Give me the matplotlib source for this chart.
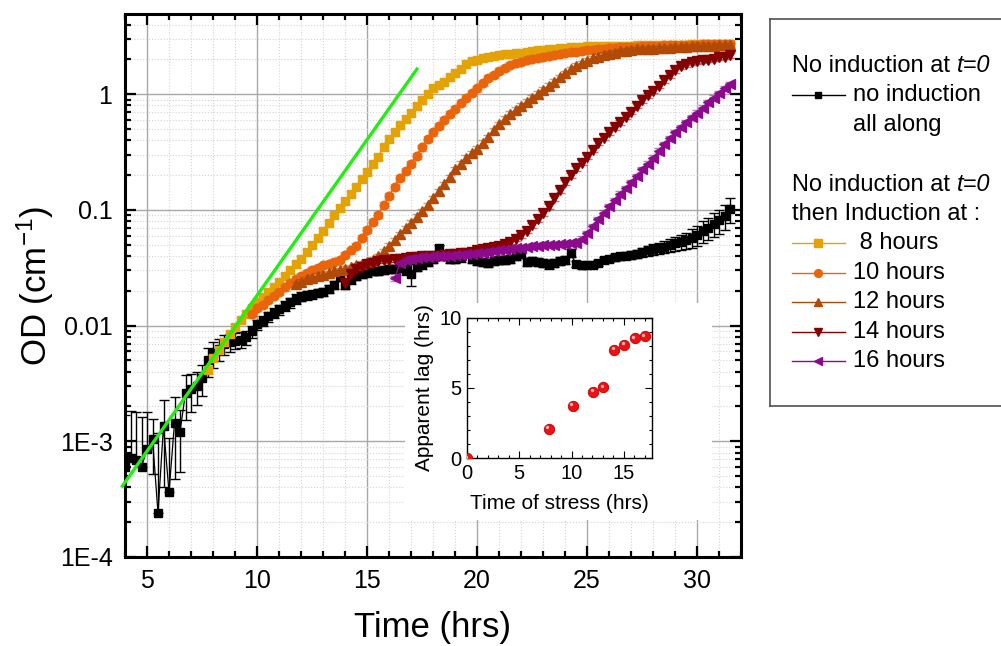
import numpy as np
import matplotlib
matplotlib.use("Agg")
import matplotlib.pyplot as plt
from matplotlib.ticker import FixedLocator, FixedFormatter, MultipleLocator, LogLocator, NullFormatter
from matplotlib.lines import Line2D
from matplotlib.patches import Rectangle
from matplotlib.colors import to_rgba
from matplotlib import transforms

plt.rcParams['font.family'] = ['Liberation Sans', 'DejaVu Sans']
plt.rcParams['mathtext.fontset'] = 'custom'
plt.rcParams['mathtext.rm'] = 'Liberation Sans'
plt.rcParams['mathtext.it'] = 'Liberation Sans:italic'

# ---------------------------------------------------------------- data
STEP = 0.25  # reader sampling interval (h)

# no induction all along: log10(OD) and relative error (%)
start_none = 4.0
log_od_none = [
    -3.22, -3.14, -3.16, -3.22, -3.07, -2.98, -3.62, -2.87, -3.44, -2.84,
    -2.92, -2.58, -2.55, -2.52, -2.45, -2.30, -2.24, -2.20, -2.16, -2.14,
    -2.13, -2.12, -2.10, -2.05, -1.99, -1.96, -1.92, -1.89, -1.86, -1.83,
    -1.80, -1.77, -1.75, -1.735, -1.73, -1.72, -1.71, -1.68, -1.65, -1.58,
    -1.65, -1.60, -1.57, -1.55, -1.54, -1.53, -1.53, -1.52, -1.51, -1.51,
    -1.50, -1.52, -1.55, -1.49, -1.47, -1.45, -1.42, -1.33, -1.40, -1.42,
    -1.42, -1.41, -1.37, -1.42, -1.44, -1.45, -1.46, -1.44, -1.43, -1.43,
    -1.42, -1.40, -1.38, -1.45, -1.44, -1.45, -1.46, -1.47, -1.46, -1.44,
    -1.43, -1.37, -1.47, -1.48, -1.475, -1.475, -1.46, -1.435, -1.42, -1.41,
    -1.40, -1.395, -1.39, -1.38, -1.365, -1.35, -1.34, -1.33, -1.32, -1.30,
    -1.29, -1.28, -1.26, -1.24, -1.215, -1.18, -1.155, -1.12, -1.09, -1.055,
    -0.99,
]
err_pct_none = [
    180, 150, 160, 170, 110, 50, 390, 70, 195, 67,
    55, 42, 36, 32, 30, 28, 25, 22, 20, 18,
    16, 15, 14, 12, 10, 10, 10, 10, 10, 10,
    10, 10, 9, 9, 8, 8, 8, 8, 8, 8,
    8, 8, 8, 8, 8, 8, 8, 8, 8, 8,
    8, 10, 22, 8, 8, 8, 8, 6, 8, 8,
    8, 8, 8, 8, 8, 8, 8, 8, 8, 8,
    8, 8, 8, 8, 8, 8, 8, 8, 8, 8,
    8, 8, 6, 6, 6, 6, 6, 6, 6, 7,
    7, 7, 8, 8, 9, 10, 10, 11, 12, 13,
    14, 15, 16, 18, 20, 21, 22, 23, 24, 24,
    25,
]

# induced at 8 h
start_8h = 7.75
log_od_8h = [
    -2.38, -2.28, -2.21, -2.14, -2.07, -2.01, -1.95, -1.90, -1.85, -1.80,
    -1.755, -1.71, -1.665, -1.62, -1.57, -1.52, -1.47, -1.42, -1.36, -1.30,
    -1.24, -1.18, -1.11, -1.04, -0.98, -0.92, -0.86, -0.80, -0.73, -0.67,
    -0.60, -0.54, -0.46, -0.39, -0.33, -0.27, -0.215, -0.16, -0.105, -0.05,
    0.00, 0.05, 0.08, 0.11, 0.145, 0.18, 0.22, 0.26, 0.285, 0.30,
    0.313, 0.323, 0.331, 0.337, 0.344, 0.35, 0.355, 0.36, 0.368, 0.375,
    0.38, 0.386, 0.39, 0.395, 0.40, 0.404, 0.407, 0.41, 0.412, 0.413,
    0.414, 0.416, 0.417, 0.418, 0.419, 0.42, 0.42, 0.421, 0.422, 0.423,
    0.424, 0.425, 0.426, 0.427, 0.428, 0.429, 0.43, 0.43, 0.431, 0.432,
    0.433, 0.434, 0.435, 0.435, 0.436, 0.437,
]

# induced at 10 h
start_10h = 9.75
log_od_10h = [
    -1.90, -1.85, -1.82, -1.78, -1.745, -1.71, -1.67, -1.63, -1.60, -1.57,
    -1.545, -1.52, -1.50, -1.48, -1.465, -1.45, -1.43, -1.39, -1.35, -1.31,
    -1.24, -1.17, -1.105, -1.04, -0.96, -0.88, -0.80, -0.72, -0.66, -0.60,
    -0.53, -0.46, -0.39, -0.33, -0.275, -0.22, -0.17, -0.125, -0.075, -0.03,
    0.01, 0.05, 0.095, 0.14, 0.17, 0.20, 0.225, 0.25, 0.268, 0.283,
    0.293, 0.303, 0.313, 0.322, 0.331, 0.34, 0.348, 0.355, 0.362, 0.368,
    0.374, 0.38, 0.385, 0.39, 0.395, 0.40, 0.403, 0.405, 0.408, 0.41,
    0.412, 0.415, 0.417, 0.42, 0.421, 0.422, 0.424, 0.425, 0.426, 0.427,
    0.428, 0.43, 0.431, 0.432, 0.433, 0.434, 0.435, 0.435,
]

# induced at 12 h
start_12h = 11.75
log_od_12h = [
    -1.64, -1.62, -1.60, -1.585, -1.57, -1.56, -1.545, -1.53, -1.52, -1.51,
    -1.495, -1.48, -1.465, -1.45, -1.43, -1.40, -1.355, -1.31, -1.26, -1.21,
    -1.16, -1.11, -1.06, -1.01, -0.96, -0.90, -0.84, -0.78, -0.715, -0.65,
    -0.60, -0.55, -0.51, -0.47, -0.42, -0.37, -0.31, -0.26, -0.21, -0.17,
    -0.135, -0.10, -0.065, -0.03, 0.005, 0.04, 0.075, 0.11, 0.145, 0.18,
    0.215, 0.245, 0.27, 0.29, 0.31, 0.325, 0.34, 0.35, 0.36, 0.37,
    0.378, 0.385, 0.388, 0.39, 0.393, 0.395, 0.398, 0.40, 0.403, 0.405,
    0.408, 0.41, 0.414, 0.418, 0.419, 0.42, 0.421, 0.423, 0.424, 0.425,
]

# induced at 14 h
start_14h = 14.0
log_od_14h = [
    -1.63, -1.55, -1.51, -1.49, -1.47, -1.455, -1.44, -1.435, -1.43, -1.425,
    -1.42, -1.415, -1.41, -1.405, -1.40, -1.40, -1.40, -1.395, -1.39, -1.385,
    -1.38, -1.375, -1.37, -1.36, -1.35, -1.34, -1.33, -1.32, -1.31, -1.295,
    -1.275, -1.25, -1.22, -1.18, -1.13, -1.08, -1.03, -0.97, -0.90, -0.83,
    -0.76, -0.70, -0.64, -0.59, -0.54, -0.48, -0.42, -0.375, -0.33, -0.285,
    -0.24, -0.195, -0.15, -0.10, -0.05, -0.01, 0.03, 0.075, 0.12, 0.165,
    0.21, 0.24, 0.26, 0.275, 0.285, 0.293, 0.30, 0.309, 0.318, 0.326,
    0.335,
]

# induced at 16 h
start_16h = 16.25
log_od_16h = [
    -1.59, -1.46, -1.43, -1.42, -1.415, -1.41, -1.405, -1.40, -1.40, -1.40,
    -1.395, -1.39, -1.388, -1.385, -1.38, -1.375, -1.37, -1.36, -1.355, -1.35,
    -1.343, -1.335, -1.33, -1.325, -1.32, -1.315, -1.31, -1.305, -1.302, -1.30,
    -1.297, -1.295, -1.29, -1.285, -1.25, -1.20, -1.14, -1.08, -1.025, -0.97,
    -0.915, -0.86, -0.81, -0.76, -0.71, -0.65, -0.60, -0.55, -0.49, -0.43,
    -0.38, -0.33, -0.285, -0.24, -0.20, -0.16, -0.115, -0.07, -0.03, 0.01,
    0.05, 0.085,
]

# relative error on the induced cultures (%)
err_pct_induced = {'8h': 6, '10h': 6, '12h': 5, '14h': 5, '16h': 5}

# exponential growth fit (green line)
fit_time = [3.88, 17.27]
fit_od = [4.1e-4, 1.65]

# inset: apparent lag vs time of stress
stress_time = [0.0, 7.8, 10.1, 12.05, 13.0, 14.1, 15.05, 16.05, 17.0]
apparent_lag = [0.0, 2.1, 3.75, 4.75, 5.05, 7.75, 8.1, 8.55, 8.7]

od_ticks = [1e-4, 1e-3, 1e-2, 1e-1, 1]
od_tick_labels = ['1E-4', '1E-3', '0.01', '0.1', '1']
time_ticks = [5, 10, 15, 20, 25, 30]

induced_labels = [' 8 hours', '10 hours', '12 hours', '14 hours', '16 hours']
induced_keys = ['8h', '10h', '12h', '14h', '16h']
induced_starts = [start_8h, start_10h, start_12h, start_14h, start_16h]
induced_logs = [log_od_8h, log_od_10h, log_od_12h, log_od_14h, log_od_16h]
induced_colors = ['#E3A206', '#E8650C', '#B04A06', '#850000', '#8C0A8C']
induced_markers = ['s', 'o', '^', 'v', '<']
induced_ms = [5.8, 6.2, 7.2, 7.2, 7.2]

# ---------------------------------------------------------------- figure
W, H = 1001, 646
fig = plt.figure(figsize=(W / 100, H / 100), dpi=100)


def px_box(x0, y0, x1, y1):
    return [x0 / W, 1 - y1 / H, (x1 - x0) / W, (y1 - y0) / H]


ax = fig.add_axes(px_box(125, 14, 741, 557))
ax.set_zorder(0)

# no-induction culture
t_none = start_none + STEP * np.arange(len(log_od_none))
od_none = 10 ** np.asarray(log_od_none)
err_none = od_none * np.asarray(err_pct_none) / 100.0
lower_none = np.where(err_none >= od_none, 0.0, err_none)
ax.errorbar(t_none, od_none, yerr=[lower_none, err_none], fmt='s-', color='black',
            lw=0.9, ms=5.6, mec='black', ecolor='black', elinewidth=1.0,
            capsize=3.6, capthick=1.0, zorder=2)

# induced cultures
for i, (key, st, lg, c, mk, ms) in enumerate(zip(induced_keys, induced_starts, induced_logs,
                                                  induced_colors, induced_markers, induced_ms)):
    t = st + STEP * np.arange(len(lg))
    od = 10 ** np.asarray(lg)
    err = od * err_pct_induced[key] / 100.0
    ax.errorbar(t, od, yerr=err, fmt=mk + '-', color=c, lw=1.0, ms=ms, mec=c,
                ecolor=to_rgba(c, 0.55), elinewidth=1.0, capsize=3.8, capthick=1.0,
                zorder=3 + i)

# exponential fit
ax.plot(fit_time, fit_od, color='#22EE11', lw=2.4, zorder=10, clip_on=False)

ax.set_yscale('log')
ax.set_xlim(4, 32)
ax.set_ylim(1e-4, 4.94)

ax.xaxis.set_major_locator(FixedLocator(time_ticks))
ax.xaxis.set_minor_locator(MultipleLocator(1))
ax.yaxis.set_major_locator(FixedLocator(od_ticks))
ax.yaxis.set_major_formatter(FixedFormatter(od_tick_labels))
ax.yaxis.set_minor_locator(LogLocator(base=10, subs=np.arange(2, 10)))
ax.yaxis.set_minor_formatter(NullFormatter())

ax.grid(which='major', color='#a8a8a8', lw=1.0, zorder=0)
ax.grid(which='minor', color='#d4d4d4', lw=0.8, ls=':', zorder=0)
ax.set_axisbelow(True)

for s in ax.spines.values():
    s.set_linewidth(2.2)
ax.tick_params(which='both', direction='in', top=True, right=True, width=1.6)
ax.tick_params(which='major', length=8, labelsize=18)
ax.tick_params(which='minor', length=4.5)
ax.tick_params(axis='x', which='major', pad=9)
ax.tick_params(axis='y', which='major', pad=9)

ax.set_xlabel('Time (hrs)', fontsize=25)
ax.set_ylabel('OD (cm$^{-1}$)', fontsize=25)
ax.xaxis.set_label_coords(0.5, -0.1)
ax.yaxis.set_label_coords(-0.112, 0.5)

# white backing behind the inset
fig.add_artist(Rectangle((405 / W, 1 - 520 / H), (712 - 405) / W, (520 - 303) / H,
                         transform=fig.transFigure, facecolor='white',
                         edgecolor='none', zorder=0.5))

# ---------------------------------------------------------------- inset
axi = fig.add_axes(px_box(467, 318, 652, 458))
axi.set_zorder(1)
axi.plot(stress_time, apparent_lag, 'o', color='#EE1111', mec='#C00000', mew=0.6,
         ms=7.5, zorder=3)
hl = transforms.offset_copy(axi.transData, fig=fig, x=-1.3, y=1.3, units='dots')
axi.plot(stress_time, apparent_lag, 'o', color='#F6B0C0', mec='none', ms=2.4,
         transform=hl, zorder=4)
axi.set_xlim(0, 17.7)
axi.set_ylim(0, 10)
axi.xaxis.set_major_locator(MultipleLocator(5))
axi.xaxis.set_minor_locator(MultipleLocator(1))
axi.yaxis.set_major_locator(MultipleLocator(5))
axi.yaxis.set_minor_locator(MultipleLocator(1))
for s in axi.spines.values():
    s.set_linewidth(1.0)
axi.tick_params(which='both', direction='in', top=True, right=True, width=0.8)
axi.tick_params(which='major', length=5, labelsize=14.5, pad=4)
axi.tick_params(which='minor', length=2.5)
axi.set_xlabel('Time of stress (hrs)', fontsize=15, labelpad=8)
axi.set_ylabel('Apparent lag (hrs)', fontsize=15, labelpad=4)

# ---------------------------------------------------------------- legend
axl = fig.add_axes(px_box(770, 19, 1012, 406))
axl.set_xlim(770, 1012)
axl.set_ylim(406, 19)
axl.set_xticks([])
axl.set_yticks([])
for s in axl.spines.values():
    s.set_linewidth(1.2)
    s.set_edgecolor('#505050')

fs_leg = 17
x_txt0 = 792
x_entry = 853


def heading(y):
    t1 = axl.text(x_txt0, y, 'No induction at ', fontsize=fs_leg, va='center', ha='left')
    axl.annotate('t=0', xy=(1, 0), xycoords=t1, fontsize=fs_leg, style='italic',
                 va='bottom', ha='left')


def handle(y, color, marker, ms):
    axl.add_line(Line2D([792, 845], [y, y], color=color, lw=1.0))
    axl.add_line(Line2D([818], [y], color=color, marker=marker, ms=ms, mec=color))


heading(66)
handle(95, 'black', 's', 4.6)
axl.text(x_entry, 95, 'no induction', fontsize=fs_leg, va='center', ha='left')
axl.text(x_entry, 125, 'all along', fontsize=fs_leg, va='center', ha='left')
heading(185)
axl.text(x_txt0, 214, 'then Induction at :', fontsize=fs_leg, va='center', ha='left')
for k, (lab, c, mk) in enumerate(zip(induced_labels, induced_colors, induced_markers)):
    y = 243 + 29.6 * k
    handle(y, c, mk, 5.6)
    axl.text(x_entry, y, lab, fontsize=fs_leg, va='center', ha='left')

fig.savefig('out.png', dpi=100)
